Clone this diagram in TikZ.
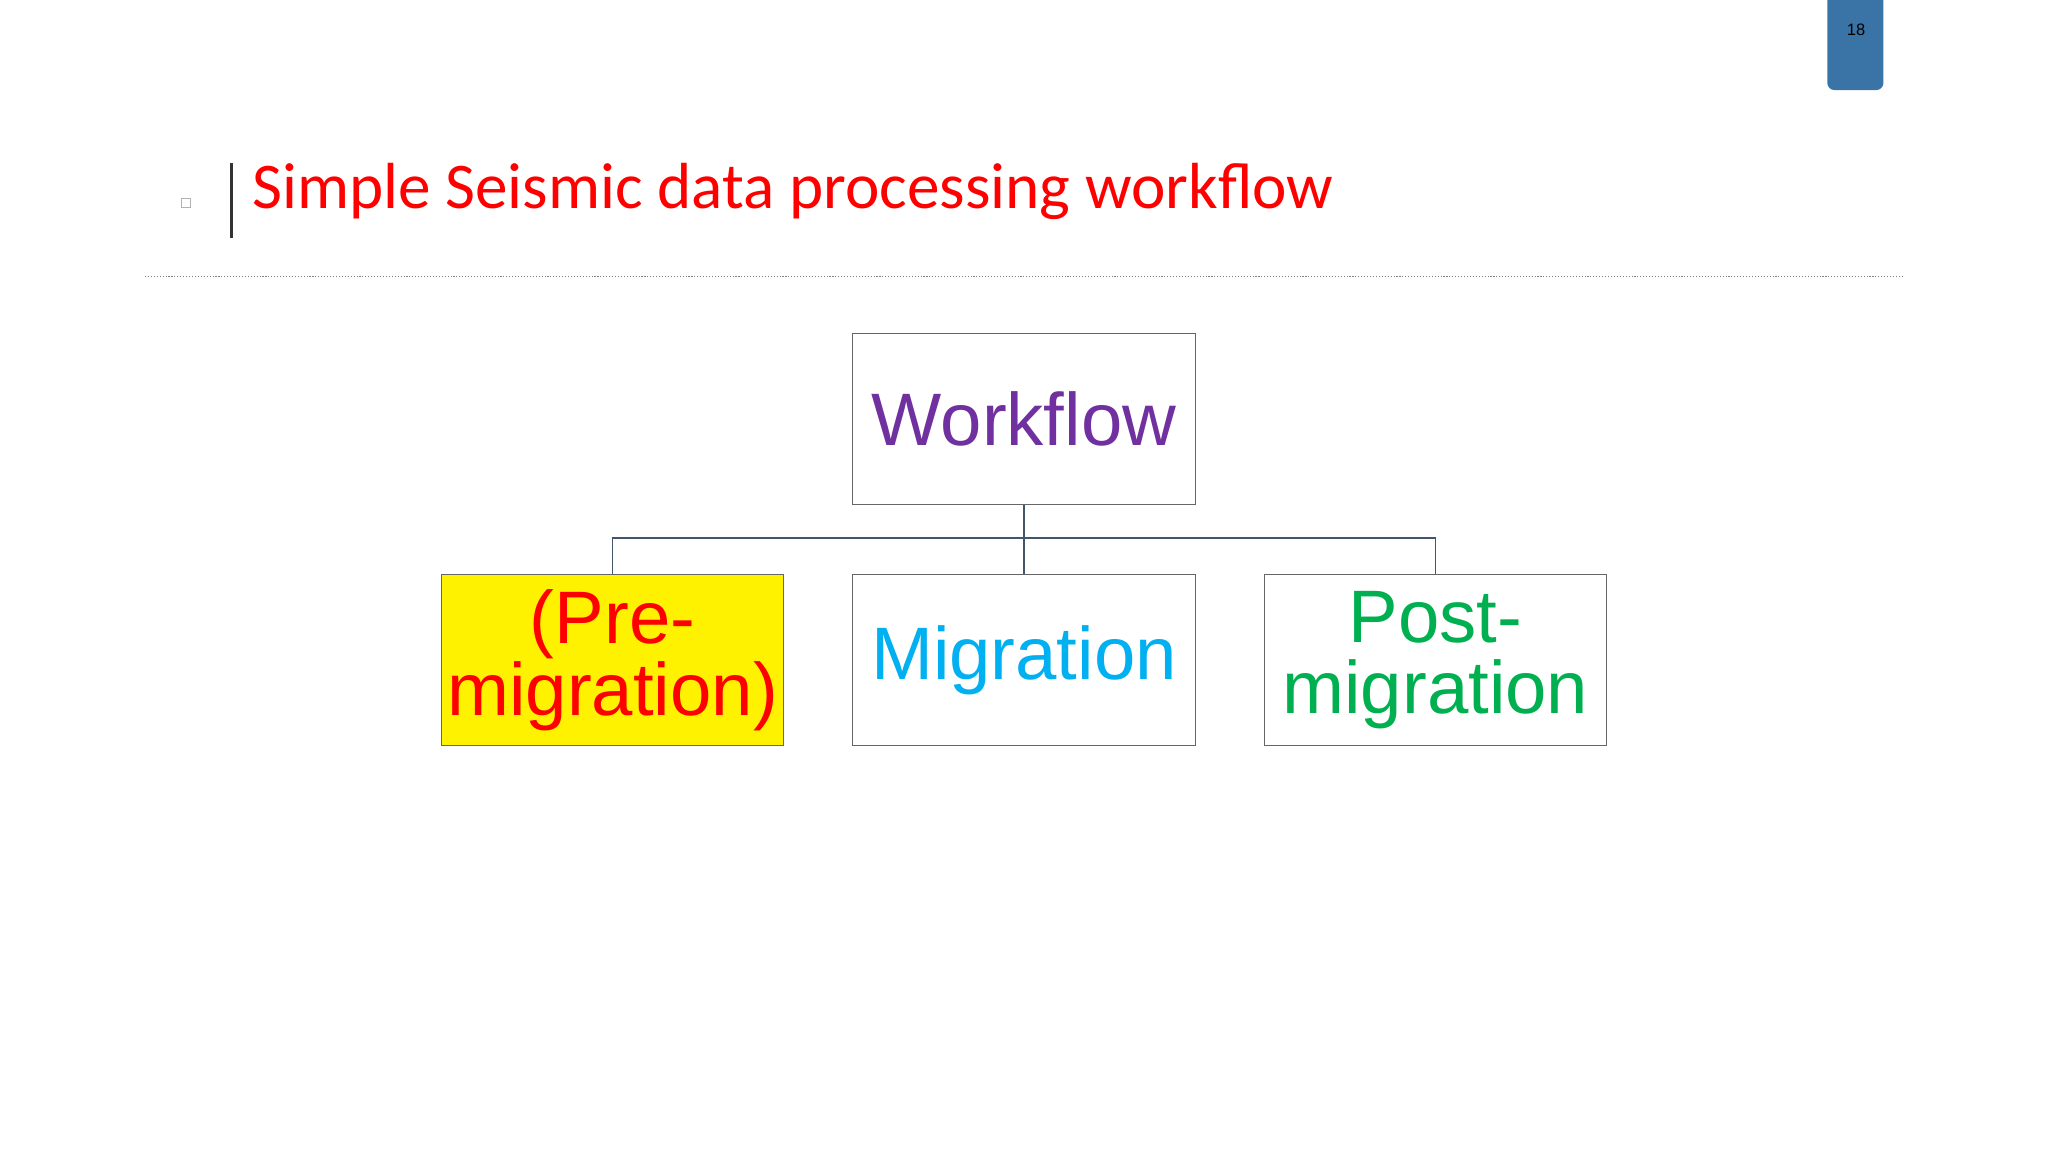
\documentclass[tikz,border=0pt]{standalone}
\usepackage{fontspec}
\setmainfont{Liberation Sans}
\newfontfamily\titlefont{Carlito}
\definecolor{tabblue}{HTML}{3A74A6}
\definecolor{wfpurple}{HTML}{7030A0}
\definecolor{migblue}{HTML}{00B0F0}
\definecolor{postgreen}{HTML}{00B050}
\definecolor{conn}{HTML}{44546A}
\tikzset{
  box/.style={draw=gray!80!black, line width=1.2pt, minimum width=262*0.05cm, minimum height=131*0.05cm, inner sep=0pt, align=center, font=\fontsize{81}{78}\selectfont},
  link/.style={draw=conn, line width=2pt}
}
\begin{document}
\begin{tikzpicture}[x=0.05cm,y=-0.05cm]
\useasboundingbox[fill=white] (0,0) rectangle (1568,882);
% page tab
\fill[tabblue, rounded corners=8pt] (1399,-20) rectangle (1442,69);
\node (pg) at (1421,23) {\fontsize{18}{20}\selectfont 18};
% title
\node[draw=gray!60, line width=0.6pt, minimum size=10pt, inner sep=0pt] (sq) at (142,155) {};
\draw[gray!40!black, line width=3pt] (177,125) -- (177,182);
\node[anchor=base west, inner sep=0pt, text=red] (title) at (193,160) {\titlefont\fontsize{71}{80}\selectfont Simple Seismic data processing workflow};
\draw[gray, line width=1.2pt, dotted] (111,212) -- (1458,212);
% boxes
\node[box, text=wfpurple] (wf) at (784,320.5) {Workflow};
\node[box, fill=yellow, text=red] (pre) at (469,505.5) {(Pre-\\migration)};
\node[box, text=migblue] (mig) at (784,505.5) {Migration};
\node[box, text=postgreen] (post) at (1099,505.5) {Post-\\migration};
\coordinate (j) at (784,412);
\draw[link] (wf.south) -- (mig.north);
\draw[link] (pre.north) |- (j) -| (post.north);
\end{tikzpicture}
\end{document}
